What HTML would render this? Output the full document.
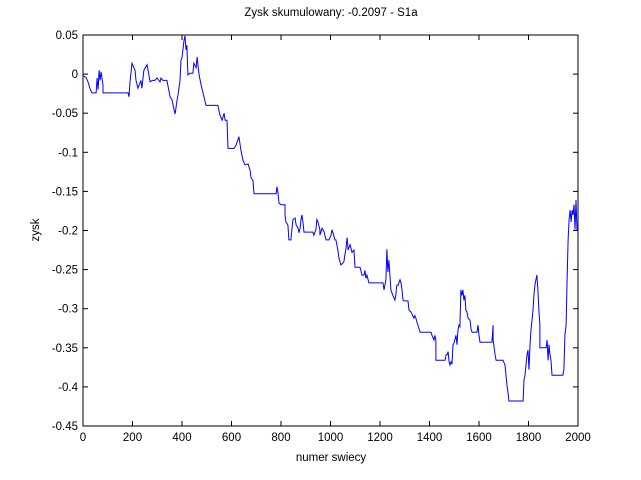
<!DOCTYPE html>
<html><head><meta charset="utf-8"><style>
body{margin:0;background:#fff;}
svg{display:block;font-family:"Liberation Sans",sans-serif;}
</style></head><body>
<svg id="chart" width="641" height="480" viewBox="0 0 641 480" xmlns="http://www.w3.org/2000/svg">
<rect x="0" y="0" width="641" height="480" fill="#fff"/>
<text x="331" y="16" font-size="11.5" text-anchor="middle">Zysk skumulowany: -0.2097 - S1a</text>
<text x="331" y="461" font-size="11.5" text-anchor="middle">numer swiecy</text>
<text x="0" y="0" font-size="11.5" text-anchor="middle" transform="translate(39,230) rotate(-90)">zysk</text>
<g id="axes"></g>
<polyline id="series" fill="none" stroke="#0000ff" stroke-width="1"/>
</svg>
<script>
const xTicks=[0,200,400,600,800,1000,1200,1400,1600,1800,2000];
const yTicks=[0.05,0,-0.05,-0.1,-0.15,-0.2,-0.25,-0.3,-0.35,-0.4,-0.45];
const yTickLabels=["0.05","0","-0.05","-0.1","-0.15","-0.2","-0.25","-0.3","-0.35","-0.4","-0.45"];
const candleIdx=[0,12,20,28,36,53,57,61,65,69,73,81,81,182,186,190,198,210,214,222,234,238,246,259,271,279,291,299,311,315,323,339,352,360,368,372,380,384,392,396,400,408,412,416,420,424,432,444,448,457,461,469,477,485,497,545,553,562,570,574,582,586,610,618,626,630,638,646,654,667,675,679,687,691,780,784,788,792,800,816,816,820,828,832,840,844,848,857,861,869,873,877,881,885,889,893,929,933,941,945,949,957,957,966,974,982,994,1002,1006,1018,1022,1030,1034,1042,1046,1054,1058,1062,1067,1071,1079,1087,1095,1099,1119,1123,1127,1135,1139,1143,1147,1155,1212,1216,1220,1224,1228,1232,1236,1240,1244,1252,1256,1260,1264,1268,1273,1281,1285,1289,1293,1297,1313,1317,1325,1337,1341,1345,1349,1353,1362,1406,1410,1418,1422,1426,1426,1463,1467,1471,1475,1479,1483,1487,1491,1495,1499,1507,1511,1515,1519,1523,1527,1531,1535,1539,1543,1547,1551,1556,1564,1568,1572,1592,1596,1600,1604,1616,1652,1657,1657,1665,1669,1697,1705,1709,1713,1717,1721,1778,1782,1786,1790,1794,1798,1802,1806,1810,1814,1818,1822,1826,1830,1834,1838,1842,1846,1846,1871,1875,1879,1883,1887,1891,1895,1939,1943,1947,1952,1956,1960,1964,1968,1972,1976,1980,1984,1988,1992,1996,2000];
const profit=[-0.002,-0.004,-0.010,-0.018,-0.024,-0.024,-0.005,-0.020,0.005,-0.008,0.003,-0.014,-0.024,-0.024,-0.029,-0.010,0.014,0.005,-0.008,-0.018,-0.008,-0.018,0.005,0.012,-0.010,-0.008,-0.008,-0.005,-0.010,-0.005,-0.008,-0.008,-0.029,-0.033,-0.046,-0.051,-0.033,-0.027,-0.008,0.018,0.021,0.043,0.049,0.031,0.037,-0.001,0.001,0.001,0.014,0.008,0.022,-0.001,-0.014,-0.024,-0.040,-0.040,-0.052,-0.059,-0.050,-0.059,-0.059,-0.095,-0.095,-0.091,-0.084,-0.080,-0.097,-0.110,-0.116,-0.115,-0.123,-0.133,-0.136,-0.153,-0.153,-0.144,-0.152,-0.165,-0.167,-0.167,-0.180,-0.189,-0.193,-0.212,-0.212,-0.199,-0.186,-0.184,-0.193,-0.197,-0.203,-0.197,-0.186,-0.180,-0.190,-0.202,-0.202,-0.206,-0.199,-0.186,-0.189,-0.199,-0.206,-0.197,-0.202,-0.212,-0.212,-0.206,-0.199,-0.212,-0.212,-0.225,-0.235,-0.244,-0.243,-0.240,-0.231,-0.225,-0.209,-0.225,-0.218,-0.228,-0.225,-0.247,-0.247,-0.251,-0.257,-0.257,-0.251,-0.261,-0.257,-0.267,-0.267,-0.276,-0.270,-0.263,-0.224,-0.253,-0.238,-0.257,-0.276,-0.283,-0.286,-0.289,-0.283,-0.270,-0.270,-0.263,-0.267,-0.276,-0.289,-0.290,-0.290,-0.302,-0.304,-0.312,-0.309,-0.312,-0.317,-0.321,-0.330,-0.330,-0.334,-0.340,-0.334,-0.340,-0.366,-0.366,-0.359,-0.359,-0.355,-0.368,-0.372,-0.368,-0.371,-0.346,-0.344,-0.334,-0.346,-0.327,-0.321,-0.323,-0.276,-0.283,-0.276,-0.289,-0.283,-0.302,-0.304,-0.312,-0.315,-0.327,-0.330,-0.330,-0.321,-0.334,-0.343,-0.343,-0.343,-0.321,-0.340,-0.359,-0.366,-0.366,-0.372,-0.385,-0.398,-0.407,-0.418,-0.418,-0.391,-0.385,-0.372,-0.359,-0.353,-0.378,-0.346,-0.327,-0.315,-0.302,-0.283,-0.270,-0.263,-0.257,-0.276,-0.302,-0.321,-0.350,-0.350,-0.340,-0.366,-0.346,-0.359,-0.366,-0.385,-0.385,-0.378,-0.334,-0.321,-0.263,-0.212,-0.186,-0.174,-0.189,-0.174,-0.180,-0.167,-0.199,-0.161,-0.199,-0.199];

const L=83,R=578,T=35,B=426;
const xMin=0,xMax=2000,yMin=-0.45,yMax=0.05;
function sx(v){return L+(v-xMin)/(xMax-xMin)*(R-L);}
function sy(v){return B-(v-yMin)/(yMax-yMin)*(B-T);}
const NS="http://www.w3.org/2000/svg";
const axes=document.getElementById('axes');
function mk(tag,attrs){const e=document.createElementNS(NS,tag);for(const k in attrs)e.setAttribute(k,attrs[k]);return e;}
const box=mk('rect',{x:L,y:T,width:R-L,height:B-T,fill:'none',stroke:'#000','stroke-width':1});


axes.appendChild(box);
xTicks.forEach(function(v){
  const x=sx(v);
  const t1=mk('line',{x1:x,y1:B,x2:x,y2:B-5,stroke:'#000'});
  
  
  axes.appendChild(t1);
  const t2=mk('line',{x1:x,y1:T,x2:x,y2:T+5,stroke:'#000'});
  
  
  axes.appendChild(t2);
  const lb=mk('text',{x:x,y:B+15,'font-size':11.5,'text-anchor':'middle'});
  lb.textContent=String(v);
  
  
  axes.appendChild(lb);
});
yTicks.forEach(function(v,i){
  const y=sy(v);
  const t1=mk('line',{x1:L,y1:y,x2:L+5,y2:y,stroke:'#000'});
  
  
  axes.appendChild(t1);
  const t2=mk('line',{x1:R,y1:y,x2:R-5,y2:y,stroke:'#000'});
  
  
  axes.appendChild(t2);
  const lb=mk('text',{x:L-5,y:y+4,'font-size':11.5,'text-anchor':'end'});
  lb.textContent=yTickLabels[i];
  
  
  axes.appendChild(lb);
});
document.getElementById('series').setAttribute('points',candleIdx.map(function(v,i){return sx(v).toFixed(1)+','+sy(profit[i]).toFixed(1);}).join(' '));
</script>
</body></html>
